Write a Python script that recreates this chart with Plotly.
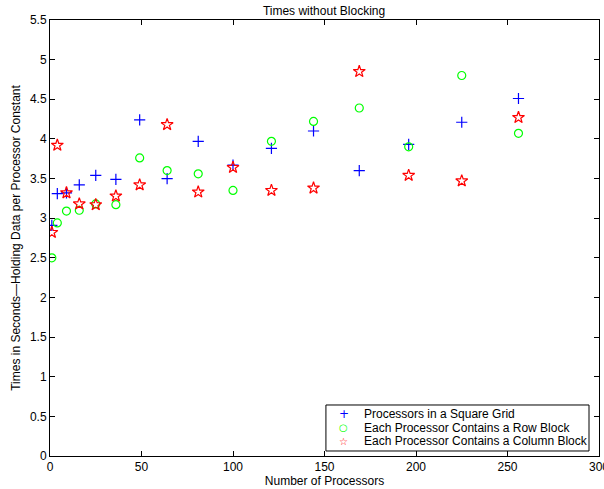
import plotly.graph_objects as go

procs = [1, 4, 9, 16, 25, 36, 49, 64, 81, 100, 121, 144, 169, 196, 225, 256]
square_grid = [2.91, 3.31, 3.32, 3.42, 3.54, 3.49, 4.24, 3.50, 3.97, 3.67, 3.88, 4.10, 3.60, 3.93, 4.21, 4.51]
row_block = [2.50, 2.94, 3.09, 3.10, 3.18, 3.17, 3.76, 3.60, 3.56, 3.35, 3.97, 4.22, 4.39, 3.90, 4.80, 4.07]
col_block = [2.82, 3.92, 3.32, 3.18, 3.17, 3.28, 3.42, 4.18, 3.33, 3.64, 3.35, 3.38, 4.85, 3.54, 3.47, 4.27]

series_names = ["Processors in a Square Grid",
                "Each Processor Contains a Row Block",
                "Each Processor Contains a Column Block"]
series_colors = ["#0000ff", "#00ff00", "#ff0000"]
series_symbols = ["cross-thin", "circle-open", "star-open"]
legend_glyphs = ["+", "\u25cb", "<b>\u2606</b>"]

x_ticks = [0, 50, 100, 150, 200, 250, 300]
y_ticks = [0, 0.5, 1, 1.5, 2, 2.5, 3, 3.5, 4, 4.5, 5, 5.5]

font = "Liberation Sans, Arial, Helvetica, sans-serif"
fs = 12

fig = go.Figure()
for vals, name, col, sym, sz in zip([square_grid, row_block, col_block], series_names,
                                    series_colors, series_symbols, [8, 8, 9]):
    fig.add_trace(go.Scatter(x=procs, y=vals, mode="markers", name=name, showlegend=False,
                             marker=dict(symbol=sym, size=sz, line=dict(color=col, width=1.2), color=col)))

axis_common = dict(showgrid=False, zeroline=False, showline=True, linecolor="black", linewidth=1,
                   mirror="ticks", ticks="inside", ticklen=5, tickcolor="black", automargin=False,
                   ticklabeloverflow="allow",
                   tickfont=dict(family=font, size=fs, color="black"))

# custom compact legend (box + glyph + label), placed in plot-area fractions
leg_x0, leg_x1, leg_y0, leg_y1 = 0.5026, 0.9818, 0.0115, 0.117
row_y = [0.0963, 0.0649, 0.0344]
glyph_x, text_x = 0.5355, 0.5678
glyph_sizes = [12, 10, 10]

shapes = [dict(type="rect", xref="paper", yref="paper", x0=leg_x0, x1=leg_x1, y0=leg_y0, y1=leg_y1,
               line=dict(color="black", width=1), fillcolor="white", layer="above")]
annotations = []
for name, col, g, gs, yy in zip(series_names, series_colors, legend_glyphs, glyph_sizes, row_y):
    annotations.append(dict(xref="paper", yref="paper", x=glyph_x, y=yy, text=g, showarrow=False,
                            xanchor="center", yanchor="middle",
                            font=dict(family="DejaVu Sans, sans-serif", size=gs, color=col)))
    annotations.append(dict(xref="paper", yref="paper", x=text_x, y=yy, text=name, showarrow=False,
                            xanchor="left", yanchor="middle",
                            font=dict(family=font, size=fs, color="black")))

fig.update_layout(
    width=604, height=489,
    margin=dict(l=50, r=5, t=20, b=33),
    paper_bgcolor="white", plot_bgcolor="white",
    font=dict(family=font, size=fs, color="black"),
    title=dict(text="Times without Blocking", x=0.5365, xanchor="center", y=0.977, yanchor="middle",
               font=dict(family=font, size=fs, color="black")),
    xaxis=dict(range=[0, 300], tickvals=x_ticks, ticktext=[str(v) for v in x_ticks],
               title=dict(text="Number of Processors", standoff=2, font=dict(family=font, size=fs)),
               **axis_common),
    yaxis=dict(range=[0, 5.5], tickvals=y_ticks, ticktext=[f"{v:g}" for v in y_ticks],
               title=dict(text="Times in Seconds\u2014Holding Data per Processor Constant", standoff=6,
                          font=dict(family=font, size=fs)),
               **axis_common),
    shapes=shapes,
    annotations=annotations,
    showlegend=False,
)

fig.write_html("out.html", config={"displayModeBar": False},
               post_script="document.body.style.margin='0';document.body.style.overflow='hidden';")
